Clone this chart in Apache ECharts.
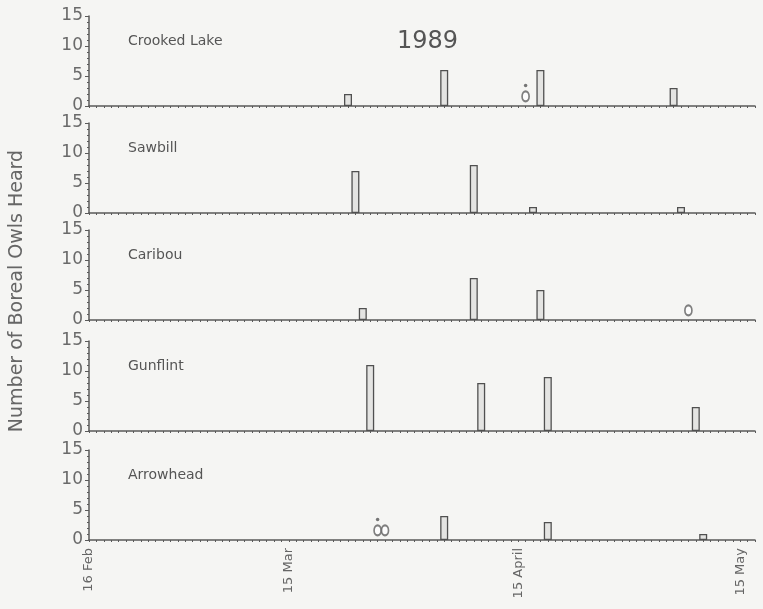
<!DOCTYPE html>
<html>
<head>
<meta charset="utf-8">
<script src="https://cdn.jsdelivr.net/npm/echarts@6/dist/echarts.min.js"></script>
<style>
html,body{margin:0;padding:0;background:#f5f5f3;}
#c{width:763px;height:609px;}
</style>
</head>
<body>
<div id="c"></div>
<script>
// Day offsets counted from 16 Feb 1989
const sites = ['Crooked Lake', 'Sawbill', 'Caribou', 'Gunflint', 'Arrowhead'];
const barDays = [[35, 48, 61, 79], [36, 52, 60, 80], [37, 52, 61], [38, 53, 62, 82], [48, 62, 83]];
const barCounts = [[2, 6, 6, 3], [7, 8, 1, 1], [2, 7, 5], [11, 8, 9, 4], [4, 3, 1]];
// surveys with zero owls heard ("o" marks) and the dot marks above them
const zeroDays = [[59], [], [81], [], [39, 40]];
const dotDays = [[59], [], [], [], [39]];
const xTickDays = [0, 27, 58, 88];
const xTickLabels = ['16 Feb', '15 Mar', '15 April', '15 May'];
const yearLabel = '1989';
const yTitle = 'Number of Boreal Owls Heard';

const gridTops = [16, 123, 230, 341, 450];
const gridH = 90;
const ink = '#5a5a5a';
const font = 'DejaVu Sans';

const grids = [], xAxes = [], yAxes = [], series = [], graphics = [];
sites.forEach((name, i) => {
  grids.push({left: 89, right: 8, top: gridTops[i], height: gridH});
  const last = i === sites.length - 1;
  xAxes.push({
    type: 'value', gridIndex: i, min: 0, max: 90, interval: 1,
    axisLine: {show: true, lineStyle: {color: ink, width: 1.5}},
    axisTick: {show: true, length: 2, lineStyle: {color: ink, width: 1}},
    splitLine: {show: false},
    axisLabel: {
      show: last, rotate: 90, margin: 8, fontSize: 13, color: '#666', fontFamily: font,
      customValues: xTickDays,
      formatter: v => xTickLabels[xTickDays.indexOf(v)] || ''
    }
  });
  yAxes.push({
    type: 'value', gridIndex: i, min: 0, max: 15, interval: 5,
    axisLine: {show: true, lineStyle: {color: ink, width: 1.5}},
    axisTick: {show: true, length: 4, lineStyle: {color: ink}},
    minorTick: {show: true, splitNumber: 5, length: 2, lineStyle: {color: ink}},
    splitLine: {show: false},
    axisLabel: {fontSize: 17, color: '#6a6a6a', margin: 6, fontFamily: font}
  });
  series.push({
    type: 'bar', xAxisIndex: i, yAxisIndex: i, barWidth: 8,
    data: barDays[i].map((d, j) => [d, barCounts[i][j]]),
    itemStyle: {color: '#e4e4e2', borderColor: '#505050', borderWidth: 1.3},
    silent: true
  });
  series.push({
    type: 'scatter', xAxisIndex: i, yAxisIndex: i,
    symbol: 'emptyCircle', symbolSize: [7, 10],
    itemStyle: {color: '#606060', borderWidth: 1.4},
    data: zeroDays[i].map(d => [d, 1.6]), silent: true, z: 3
  });
  series.push({
    type: 'scatter', xAxisIndex: i, yAxisIndex: i,
    symbol: 'circle', symbolSize: 3.5,
    itemStyle: {color: '#555'},
    data: dotDays[i].map(d => [d, 3.4]), silent: true, z: 3
  });
  graphics.push({
    type: 'text', left: 128, top: gridTops[i] + 18,
    style: {text: name, fontSize: 14, fill: '#555', fontFamily: font}
  });
});
graphics.push({
  type: 'text', left: 397, top: 30,
  style: {text: yearLabel, fontSize: 24, fill: '#555', fontFamily: font}
});
graphics.push({
  type: 'text', x: 17, y: 291, rotation: Math.PI / 2,
  style: {text: yTitle, fontSize: 19, fill: '#666', fontFamily: font, align: 'center', verticalAlign: 'middle'}
});

const chart = echarts.init(document.getElementById('c'));
chart.setOption({
  backgroundColor: '#f5f5f3',
  animation: false,
  grid: grids, xAxis: xAxes, yAxis: yAxes, series: series, graphic: graphics
});
</script>
</body>
</html>
